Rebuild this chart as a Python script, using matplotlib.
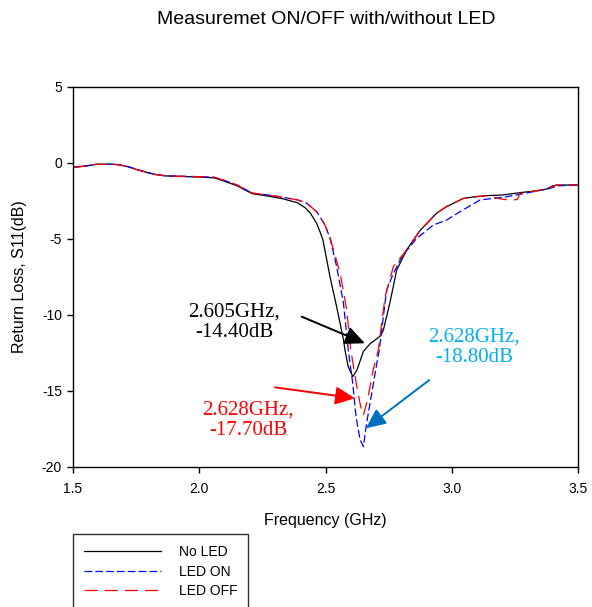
import numpy as np
import matplotlib
matplotlib.use("Agg")
import matplotlib.pyplot as plt

plt.rcParams['font.family'] = ['Liberation Sans', 'DejaVu Sans']
plt.rcParams['lines.scale_dashes'] = False
plt.rcParams['axes.unicode_minus'] = False

# curves (GHz, dB)
f_noled = [1.50, 1.55, 1.59, 1.65, 1.68, 1.72, 1.75, 1.80, 1.83, 1.87, 1.95, 2.00, 2.06, 2.10, 2.15,
           2.21, 2.27, 2.33, 2.39, 2.42, 2.44, 2.465, 2.48, 2.49, 2.518, 2.544, 2.571, 2.577, 2.59,
           2.608, 2.625, 2.65, 2.676, 2.716, 2.729, 2.755, 2.782, 2.822, 2.874, 2.94, 2.98, 3.046,
           3.10, 3.138, 3.204, 3.27, 3.34, 3.376, 3.40, 3.416, 3.5]
s_noled = [-0.28, -0.20, -0.09, -0.08, -0.11, -0.25, -0.42, -0.65, -0.77, -0.85, -0.90, -0.92, -0.98,
           -1.20, -1.50, -2.02, -2.17, -2.35, -2.62, -2.95, -3.30, -3.97, -4.60, -5.07, -7.50, -9.45,
           -11.6, -12.3, -13.4, -14.05, -13.6, -12.4, -11.9, -11.4, -11.0, -9.2, -7.04, -5.7, -4.45,
           -3.3, -2.87, -2.33, -2.20, -2.15, -2.10, -1.95, -1.82, -1.71, -1.50, -1.45, -1.45]

f_on = [1.50, 1.55, 1.59, 1.65, 1.68, 1.72, 1.75, 1.80, 1.83, 1.87, 1.95, 2.00, 2.06, 2.10, 2.15,
        2.21, 2.27, 2.33, 2.39, 2.426, 2.465, 2.498, 2.518, 2.544, 2.571, 2.590, 2.608, 2.621, 2.637,
        2.650, 2.663, 2.683, 2.703, 2.713, 2.742, 2.769, 2.802, 2.861, 2.927, 2.98, 3.033, 3.112,
        3.178, 3.204, 3.27, 3.39, 3.42, 3.5]
s_on = [-0.28, -0.20, -0.09, -0.08, -0.11, -0.25, -0.42, -0.65, -0.77, -0.85, -0.88, -0.90, -0.94,
        -1.15, -1.45, -1.98, -2.10, -2.25, -2.43, -2.65, -3.20, -4.08, -4.96, -6.8, -9.2, -12.3,
        -14.5, -16.7, -18.2, -18.66, -17.1, -15.15, -13.2, -12.3, -8.36, -7.26, -6.16, -4.96, -4.08,
        -3.75, -3.20, -2.43, -2.30, -2.26, -2.06, -1.67, -1.50, -1.45]

f_off = [1.50, 1.55, 1.59, 1.65, 1.68, 1.72, 1.75, 1.80, 1.83, 1.87, 1.95, 2.00, 2.06, 2.10, 2.15,
         2.21, 2.27, 2.33, 2.39, 2.426, 2.465, 2.498, 2.518, 2.558, 2.584, 2.600, 2.624, 2.639, 2.650,
         2.666, 2.689, 2.709, 2.736, 2.769, 2.822, 2.874, 2.94, 2.98, 3.046, 3.138, 3.19, 3.23, 3.26,
         3.27, 3.376, 3.416, 3.5]
s_off = [-0.28, -0.20, -0.09, -0.08, -0.11, -0.25, -0.42, -0.65, -0.77, -0.85, -0.88, -0.90, -0.94,
         -1.15, -1.45, -1.98, -2.10, -2.25, -2.43, -2.65, -3.20, -4.08, -4.90, -7.26, -9.67, -12.3,
         -14.7, -16.0, -16.58, -15.6, -13.6, -12.3, -8.8, -6.8, -5.7, -4.45, -3.3, -2.85, -2.33,
         -2.15, -2.35, -2.45, -2.40, -2.0, -1.71, -1.45, -1.45]

# annotated resonances: (text, text colour, arrow colour, text pos, arrow tail, arrow tip)
notes = [
    ("2.605GHz,\n-14.40dB", "black", "black", (2.138, -10.45), (2.406, -10.11), (2.656, -11.86)),
    ("2.628GHz,\n-17.70dB", "#FF0000", "#FF0000", (2.193, -16.90), (2.300, -14.76), (2.617, -15.48)),
    ("2.628GHz,\n-18.80dB", "#00B0F0", "#0070C0", (3.088, -12.15), (2.911, -14.28), (2.660, -17.45)),
]

fig = plt.figure(figsize=(5.92, 6.07), dpi=100)
ax = fig.add_axes([73 / 592, 1 - 467 / 607, 505 / 592, 380 / 607])

l1, = ax.plot(f_noled, s_noled, color="black", lw=0.9, label="No LED")
l2, = ax.plot(f_on, s_on, color="blue", lw=0.9, dashes=(5.5, 2.3), label="LED ON")
l3, = ax.plot(f_off, s_off, color="red", lw=0.9, dashes=(9.5, 5.0), label="LED OFF")

for txt, tc, ac, tpos, tail, tip in notes:
    ax.text(tpos[0], tpos[1], txt, color=tc, ha="center", va="center", fontsize=15,
            family=["Liberation Serif", "DejaVu Serif"], linespacing=1.1)
    ax.annotate("", xy=tip, xytext=tail,
                arrowprops=dict(arrowstyle="-|>,head_length=1.2,head_width=0.55", color=ac, lw=1.4,
                                shrinkA=0, shrinkB=0))

ax.set_xlim(1.5, 3.5)
ax.set_ylim(-20, 5)
ax.set_xticks([1.5, 2.0, 2.5, 3.0, 3.5])
ax.set_xticklabels(["1.5", "2.0", "2.5", "3.0", "3.5"])
ax.set_yticks([5, 0, -5, -10, -15, -20])
ax.tick_params(direction="out", length=4, width=1, labelsize=10)
ax.tick_params(axis="x", pad=7)
ax.tick_params(axis="y", pad=4)
for sp in ax.spines.values():
    sp.set_linewidth(1)

fig.text(325 / 592, 1 - 520 / 607, "Frequency (GHz)", ha="center", va="center", fontsize=11.5)
fig.text(20 / 592, 1 - 277 / 607, "Return Loss, S11(dB)", ha="center", va="center",
         rotation=90, fontsize=11.5)
fig.text(326 / 592, 1 - 20 / 607, "Measuremet ON/OFF with/without LED", ha="center", va="center",
         fontsize=14)

leg = fig.legend(handles=[l1, l2, l3], loc="upper left", bbox_to_anchor=(73 / 592, 1 - 534 / 607),
                 fontsize=10, frameon=True, fancybox=False, handlelength=5.5, handletextpad=1.3,
                 borderpad=0.8, labelspacing=0.4, borderaxespad=0)
leg.get_frame().set_edgecolor("black")
leg.get_frame().set_linewidth(1)

fig.savefig("out.png", dpi=100)
